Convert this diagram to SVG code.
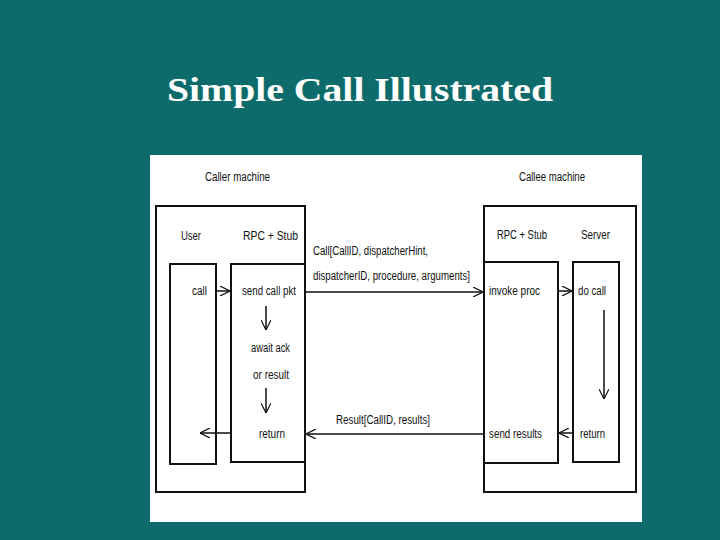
<svg xmlns="http://www.w3.org/2000/svg" width="720" height="540" viewBox="0 0 720 540">
<defs>
<marker id="v" viewBox="0 0 10 10" refX="10" refY="5" markerWidth="10" markerHeight="10" markerUnits="userSpaceOnUse" orient="auto"><path d="M0,0 L10,5 L0,10" fill="none" stroke="#111" stroke-width="1.2"/></marker>
</defs>
<style>
.t{font-family:"Liberation Sans",sans-serif;font-size:12px;fill:#111}
.b{fill:none;stroke:#111;stroke-width:2}
.l{stroke:#111;stroke-width:1.5;fill:none;marker-end:url(#v)}
</style>
<rect width="720" height="540" fill="#0e6b6b"/>
<text x="360" y="101" text-anchor="middle" font-family="Liberation Serif,serif" font-weight="bold" font-size="34" fill="#fff" textLength="386" lengthAdjust="spacingAndGlyphs">Simple Call Illustrated</text>
<rect x="150" y="155" width="492" height="367" fill="#fff"/>
<g id="caller">
<text class="t" x="205" y="181" textLength="65" lengthAdjust="spacingAndGlyphs">Caller machine</text>
<rect class="b" x="156" y="206" width="149" height="286"/>
<text class="t" x="181" y="240" textLength="20" lengthAdjust="spacingAndGlyphs">User</text>
<text class="t" x="243" y="240" textLength="55" lengthAdjust="spacingAndGlyphs">RPC + Stub</text>
</g>
<g id="user"><rect class="b" x="170" y="264" width="46" height="200"/><text class="t" x="192" y="295" textLength="15" lengthAdjust="spacingAndGlyphs">call</text></g>
<g id="callerStub"><rect class="b" x="231" y="264" width="74" height="198"/>
<text class="t" x="242" y="295" textLength="54" lengthAdjust="spacingAndGlyphs">send call pkt</text><text class="t" x="251" y="352" textLength="39" lengthAdjust="spacingAndGlyphs">await ack</text><text class="t" x="253" y="379" textLength="36" lengthAdjust="spacingAndGlyphs">or result</text><text class="t" x="259" y="438" textLength="26" lengthAdjust="spacingAndGlyphs">return</text></g>
<g id="callee">
<text class="t" x="519" y="181" textLength="66" lengthAdjust="spacingAndGlyphs">Callee machine</text>
<rect class="b" x="484" y="206" width="152" height="286"/>
<text class="t" x="497" y="239" textLength="50" lengthAdjust="spacingAndGlyphs">RPC + Stub</text><text class="t" x="581" y="239" textLength="29" lengthAdjust="spacingAndGlyphs">Server</text>
</g>
<g id="calleeStub"><rect class="b" x="484" y="262" width="74" height="201"/><text class="t" x="489" y="295" textLength="51" lengthAdjust="spacingAndGlyphs">invoke proc</text><text class="t" x="489" y="438" textLength="53" lengthAdjust="spacingAndGlyphs">send results</text></g>
<g id="server"><rect class="b" x="573" y="262" width="46" height="200"/><text class="t" x="578" y="295" textLength="28" lengthAdjust="spacingAndGlyphs">do call</text><text class="t" x="580" y="438" textLength="25" lengthAdjust="spacingAndGlyphs">return</text></g>
<g id="connectors">
<line class="l" x1="216" y1="291" x2="230" y2="291"/>
<line class="l" x1="266" y1="306" x2="266" y2="330"/>
<line class="l" x1="266" y1="388" x2="266" y2="413"/>
<line class="l" x1="231" y1="433" x2="200" y2="433"/>
<line class="l" x1="305" y1="292" x2="483" y2="292"/>
<line class="l" x1="484" y1="434" x2="306" y2="434"/>
<line class="l" x1="558" y1="291" x2="572" y2="291"/>
<line class="l" x1="604" y1="310" x2="604" y2="399"/>
<line class="l" x1="573" y1="433" x2="559" y2="433"/>
<text class="t" x="313" y="255" textLength="115" lengthAdjust="spacingAndGlyphs">Call[CallID, dispatcherHint,</text>
<text class="t" x="313" y="280" textLength="157" lengthAdjust="spacingAndGlyphs">dispatcherID, procedure, arguments]</text>
<text class="t" x="336" y="424" textLength="94" lengthAdjust="spacingAndGlyphs">Result[CallID, results]</text>
</g>
</svg>
